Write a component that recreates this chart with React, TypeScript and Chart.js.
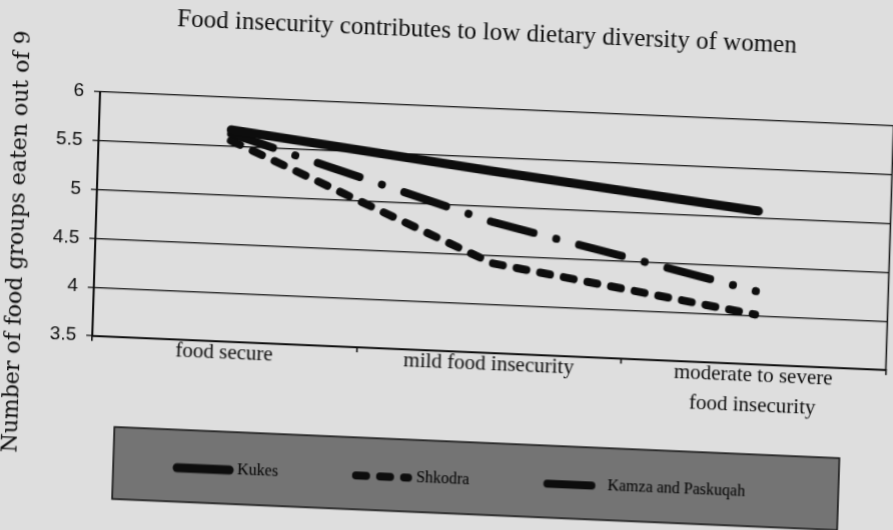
import React, { useEffect, useRef } from "react";
import { Chart, registerables } from "chart.js";

Chart.register(...registerables);

// ---- data ----
const categories: (string | string[])[] = [
  "food secure",
  "mild food insecurity",
  ["moderate to severe", "food insecurity"],
];
const seriesNames = ["Kukes", "Shkodra", "Kamza and Paskuqah"];
const kukes = [5.67, 5.36, 5.07];
const shkodra = [5.56, 4.42, 4.01];
const kamza = [5.63, 4.84, 4.25];
const yMin = 3.5;
const yMax = 6;
const yStep = 0.5;
const titleText = "Food insecurity contributes to low dietary diversity of women";
const yAxisTitle = "Number of food groups eaten out of 9";

// ---- style ----
const INK = "#0d0d0d";
const PAGE_BG = "#dedede";
const LEGEND_BG = "#747474";
const LEGEND_RECT = { x: 120, y: 441, w: 725, h: 72 };
const LEGEND_FIRST_X = 184;
const LEGEND_CENTER_Y = 479;
const TITLE_SHIFT = 34;
const Y_TITLE_POS = { x: 17, y: 260 };

const placePlugin = {
  id: "placePlugin",
  afterLayout(chart: any) {
    const lg = chart.legend;
    if (lg) {
      const pad = lg.options.labels.padding;
      const w = lg.width;
      const h = lg.height;
      lg.left = LEGEND_FIRST_X - pad;
      lg.right = lg.left + w;
      lg.top = LEGEND_CENTER_Y - pad - 8;
      lg.bottom = lg.top + h;
    }
    const t = chart.titleBlock;
    if (t) {
      t.left += TITLE_SHIFT;
      t.right += TITLE_SHIFT;
    }
  },
};

const decorPlugin = {
  id: "decorPlugin",
  beforeDraw(chart: any) {
    const ctx = chart.ctx;
    ctx.save();
    ctx.fillStyle = LEGEND_BG;
    ctx.fillRect(LEGEND_RECT.x, LEGEND_RECT.y, LEGEND_RECT.w, LEGEND_RECT.h);
    ctx.strokeStyle = INK;
    ctx.lineWidth = 1.5;
    ctx.strokeRect(LEGEND_RECT.x, LEGEND_RECT.y, LEGEND_RECT.w, LEGEND_RECT.h);
    ctx.restore();
  },
  afterDraw(chart: any) {
    const ctx = chart.ctx;
    const a = chart.chartArea;
    ctx.save();
    ctx.strokeStyle = INK;
    ctx.lineWidth = 1.5;
    ctx.beginPath();
    ctx.moveTo(a.right, a.top);
    ctx.lineTo(a.right, a.bottom);
    ctx.stroke();
    // vertical axis title
    ctx.translate(Y_TITLE_POS.x, Y_TITLE_POS.y);
    ctx.rotate(-Math.PI / 2);
    ctx.fillStyle = INK;
    ctx.font = '22px "DejaVu Serif"';
    ctx.textAlign = "center";
    ctx.textBaseline = "middle";
    ctx.fillText(yAxisTitle, 0, 0);
    ctx.restore();
  },
};

export default function App() {
  const ref = useRef<HTMLCanvasElement | null>(null);

  useEffect(() => {
    if (!ref.current) return;
    const chart = new Chart(ref.current, {
      type: "line",
      data: {
        labels: categories as any,
        datasets: [
          {
            label: seriesNames[0],
            data: kukes,
            borderColor: INK,
            backgroundColor: INK,
            borderWidth: 9,
            borderCapStyle: "round",
            borderJoinStyle: "round",
            pointRadius: 0,
            tension: 0,
          },
          {
            label: seriesNames[1],
            data: shkodra,
            borderColor: INK,
            backgroundColor: INK,
            borderWidth: 8,
            borderDash: [10, 14],
            borderCapStyle: "round",
            borderJoinStyle: "round",
            pointRadius: 0,
            tension: 0,
          },
          {
            label: seriesNames[2],
            data: kamza,
            borderColor: INK,
            backgroundColor: INK,
            borderWidth: 8,
            borderDash: [44, 23.5, 0.01, 23.5],
            borderCapStyle: "round",
            borderJoinStyle: "round",
            pointRadius: 0,
            tension: 0,
          },
        ],
      },
      options: {
        animation: false,
        responsive: true,
        maintainAspectRatio: false,
        layout: { padding: { left: 0, right: 2, top: 0, bottom: 0 } },
        plugins: {
          title: {
            display: true,
            text: titleText,
            color: INK,
            font: { family: '"Liberation Serif"', size: 25, weight: "normal", lineHeight: 1.2 },
            padding: { top: 16, bottom: 61 },
          },
          legend: {
            display: true,
            position: "bottom",
            align: "start",
            labels: {
              usePointStyle: true,
              pointStyle: "line",
              pointStyleWidth: 52,
              padding: 78,
              color: "#000",
              font: { family: '"Liberation Serif"', size: 16 },
              generateLabels: (c: any) =>
                c.data.datasets.map((ds: any, i: number) => ({
                  text: ds.label,
                  fillStyle: ds.borderColor,
                  strokeStyle: ds.borderColor,
                  lineWidth: ds.borderWidth,
                  lineDash: ds.borderDash || [],
                  lineCap: ds.borderCapStyle,
                  lineJoin: "round",
                  pointStyle: "line",
                  fontColor: "#000",
                  hidden: false,
                  datasetIndex: i,
                })),
            },
          },
          tooltip: { enabled: false },
        },
        scales: {
          x: {
            type: "category",
            offset: true,
            afterFit: (s: any) => {
              s.height = 75;
            },
            grid: {
              display: true,
              drawOnChartArea: false,
              drawTicks: true,
              tickLength: 5,
              offset: true,
              color: INK,
              lineWidth: 1.5,
            },
            border: { display: true, color: INK, width: 2 },
            ticks: {
              color: INK,
              autoSkip: false,
              maxRotation: 0,
              padding: -9,
              font: { family: '"Liberation Serif"', size: 21, lineHeight: 1.43 },
            },
          },
          y: {
            min: yMin,
            max: yMax,
            afterFit: (s: any) => {
              s.width = 95;
            },
            grid: {
              color: INK,
              lineWidth: 1.2,
              drawTicks: true,
              tickLength: 6,
            },
            border: { display: true, color: INK, width: 2 },
            ticks: {
              stepSize: yStep,
              color: INK,
              padding: 10,
              font: { family: '"Liberation Sans"', size: 19 },
              callback: (v: any) => String(Number(v)),
            },
          },
        },
      },
      plugins: [placePlugin, decorPlugin],
    });
    return () => chart.destroy();
  }, []);

  return (
    <div
      style={{
        position: "fixed",
        left: -40,
        top: -40,
        width: 973,
        height: 610,
        background: PAGE_BG,
        transform: "matrix(1, 0.043, -0.032, 1, 0, 0)",
      }}
    >
      <div style={{ position: "absolute", left: 40, top: 40, width: 893, height: 530 }}>
        <canvas ref={ref} />
      </div>
    </div>
  );
}
